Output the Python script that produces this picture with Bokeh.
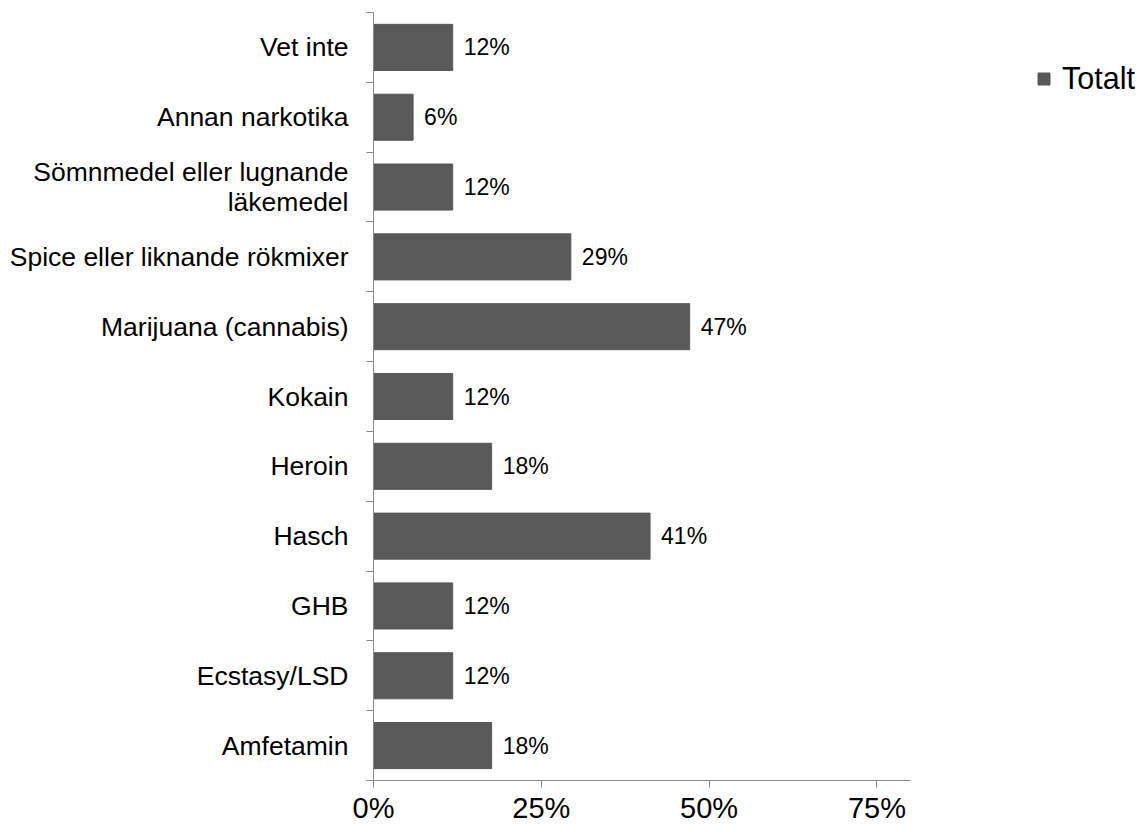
from bokeh.plotting import figure
from bokeh.models import ColumnDataSource, FixedTicker, Range1d, Legend, LegendItem
from bokeh.embed import file_html
from bokeh.resources import INLINE
from bokeh.core.properties import value

categories = ["Amfetamin", "Ecstasy/LSD", "GHB", "Hasch", "Heroin", "Kokain",
              "Marijuana (cannabis)", "Spice eller liknande rökmixer",
              "Sömnmedel eller lugnande\nläkemedel", "Annan narkotika", "Vet inte"]
values = [0.176, 0.118, 0.118, 0.412, 0.176, 0.118, 0.471, 0.294, 0.118, 0.059, 0.118]
value_labels = ["18%", "12%", "12%", "41%", "18%", "12%", "47%", "29%", "12%", "6%", "12%"]
x_ticks = [0, 0.25, 0.5, 0.75]
x_tick_labels = ["0%", "25%", "50%", "75%"]
axis_max = 0.8
series_name = "Totalt"

FONT = "Liberation Sans"
BAR = "#595959"
AXIS = "#898989"

# layout (pixels)
W, H = 1145, 832
LEFT, TOP, BOTTOM = 373, 12, 52
AXIS_END_PX = 910          # where the value axis ends
RIGHT = 4
frame_w = W - LEFT - RIGHT
x_end = axis_max * frame_w / (AXIS_END_PX - LEFT)

pos = list(range(len(categories)))
src = ColumnDataSource(dict(y=pos, v=values, lab=value_labels))

p = figure(width=W, height=H, output_backend="svg", toolbar_location=None,
           x_range=Range1d(0, x_end), y_range=Range1d(-0.5, len(categories) - 0.5),
           min_border_left=LEFT, min_border_right=RIGHT, min_border_top=TOP,
           min_border_bottom=BOTTOM)
p.outline_line_color = None
p.grid.visible = False
p.background_fill_color = "white"
p.border_fill_color = "white"

bars = p.hbar(y="y", right="v", left=0, height=0.66, source=src,
              fill_color=BAR, line_color=BAR)
p.text(x="v", y="y", text="lab", source=src, x_offset=11,
       text_baseline="middle", text_align="left",
       text_font=value(FONT), text_font_size="23px", text_color="black")

# x axis
xa = p.xaxis[0]
xa.bounds = (0, axis_max)
xa.ticker = FixedTicker(ticks=x_ticks, minor_ticks=[])
xa.major_label_overrides = {t: l for t, l in zip(x_ticks, x_tick_labels)}
xa.axis_line_color = AXIS
xa.major_tick_line_color = AXIS
xa.major_tick_in = 0
xa.major_tick_out = 7
xa.minor_tick_line_color = None
xa.minor_tick_out = 0
xa.major_label_text_font = FONT
xa.major_label_text_font_size = "29px"
xa.major_label_text_color = "black"
xa.major_label_standoff = 4

# y axis
ya = p.yaxis[0]
bounds = [i - 0.5 for i in range(len(categories) + 1)]
ya.ticker = FixedTicker(ticks=pos, minor_ticks=bounds)
ya.major_label_overrides = {i: c for i, c in zip(pos, categories)}
ya.axis_line_color = AXIS
ya.major_tick_line_color = None
ya.major_tick_out = 0
ya.minor_tick_line_color = AXIS
ya.minor_tick_in = 0
ya.minor_tick_out = 7
ya.major_label_text_font = FONT
ya.major_label_text_font_size = "26.5px"
ya.major_label_text_color = "black"
ya.major_label_text_line_height = 1.0
ya.major_label_standoff = 18

legend = Legend(items=[LegendItem(label=series_name, renderers=[bars])],
                location=(663, 684), orientation="vertical",
                glyph_width=15, glyph_height=15, label_standoff=11,
                padding=0, margin=0, spacing=0,
                border_line_color=None, background_fill_alpha=0,
                label_text_font=FONT, label_text_font_size="30.5px",
                label_text_color="black")
p.add_layout(legend, "center")

open("out.html", "w").write(file_html(p, INLINE))
